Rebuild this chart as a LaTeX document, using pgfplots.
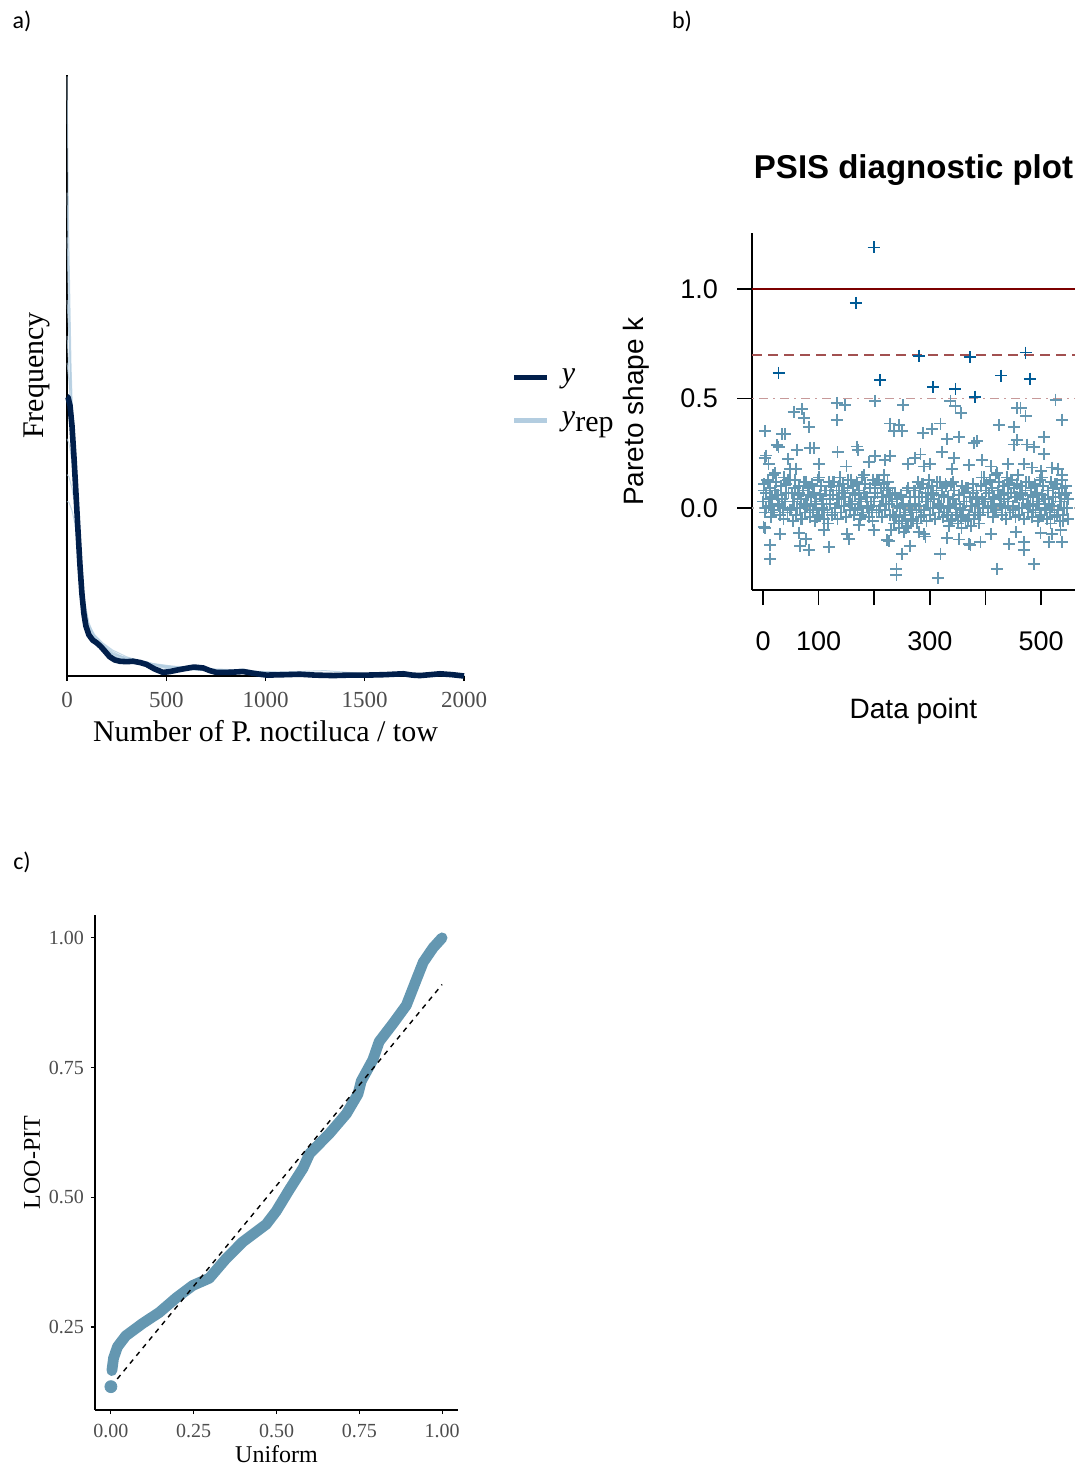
\documentclass[border=0pt]{standalone}
\usepackage{fontspec}
\setmainfont{Liberation Serif}
\newfontfamily\arial{Liberation Sans}
\newfontfamily\calibri{Carlito}
\usepackage{pgfplots}
\pgfplotsset{compat=1.18}
\definecolor{yblue}{HTML}{011F4B}
\definecolor{repblue}{HTML}{B3CDE0}
\definecolor{ptlight}{HTML}{6497B1}
\definecolor{ptdark}{HTML}{005B96}
\definecolor{gray30}{RGB}{77,77,77}
\definecolor{kzero}{RGB}{169,169,169}
\definecolor{khalf}{HTML}{C79999}
\definecolor{kseven}{HTML}{A25050}
\definecolor{kone}{HTML}{7C0000}
\tikzset{
  rep/.style={repblue, line width=0.5pt, opacity=0.75},
  plab/.style={font=\calibri\fontsize{12}{14}\selectfont},
}

\begin{document}
\begin{tikzpicture}
\path[use as bounding box] (0,0) rectangle (540pt,-734pt);
\node[plab] at (11pt,-10.5pt) {a)};
\node[plab] at (341pt,-10.5pt) {b)};
\node[plab] at (11pt,-431pt) {c)};

% ===== a) density overlay =====
\begin{axis}[
  at={(33.5pt,-338pt)}, anchor=south west,
  scale only axis, width=198.5pt, height=300.5pt,
  xmin=0, xmax=2000, ymin=0, ymax=1343,
  axis x line*=bottom, axis y line*=left,
  axis line style={line width=0.8pt},
  ytick=\empty, xtick={0,500,1000,1500,2000},
  tick align=outside, major tick length=2.5pt,
  tick style={black, line width=0.6pt},
  xticklabel style={font=\fontsize{11.5}{13}\selectfont, text=gray30, yshift=-2pt},
  /pgf/number format/assume math mode=true,
  /pgf/number format/set thousands separator={},
  xlabel={Number of P. noctiluca / tow}, ylabel={Frequency},
  every axis x label/.style={at={(rel axis cs:0.5,0)}, yshift=-27.5pt, anchor=center, font=\fontsize{15}{17}\selectfont},
  every axis y label/.style={at={(rel axis cs:-0.0756,0.5)}, rotate=90, anchor=center, font=\fontsize{15}{17}\selectfont},
  clip=false,
  legend style={at={(1,0.461)}, anchor=west, xshift=20.5pt, draw=none, fill=none,
    row sep=9pt, font=\fontsize{15}{17}\selectfont},
  legend cell align=left,
  legend image code/.code={\draw[#1] (0pt,0pt) -- (16.5pt,0pt); \path[draw=none, fill=none] (22pt,0pt) -- (22pt,0.1pt);},
]
% yrep draws
\addplot[rep, forget plot] coordinates {(0,1340) (8,1000) (20,700) (35,480) (50,330) (70,210) (90,140) (110,105) (140,85) (180,68) (230,50) (300,38) (400,28) (500,22) (650,16) (800,12) (1000,8) (1300,5) (1600,3) (2000,1)};
\addplot[rep, forget plot] coordinates {(0,1080) (8,900) (20,650) (35,470) (50,340) (70,215) (90,135) (110,100) (140,80) (180,62) (230,45) (300,36) (400,30) (500,20) (650,18) (800,10) (880,16) (1000,7) (1300,6) (1600,3) (2000,1)};
\addplot[rep, forget plot] coordinates {(0,840) (10,760) (25,600) (40,440) (55,310) (70,220) (90,140) (110,95) (140,82) (180,70) (230,52) (300,40) (400,27) (500,18) (650,15) (800,13) (1000,6) (1300,4) (1600,4) (2000,1)};
\addplot[rep, forget plot] coordinates {(0,700) (10,660) (25,560) (40,430) (55,320) (70,230) (90,150) (110,100) (140,78) (180,60) (230,48) (300,42) (400,30) (500,24) (650,14) (800,9) (1000,8) (1300,12) (1600,2) (2000,1)};
\addplot[rep, forget plot] coordinates {(0,620) (10,600) (25,540) (40,440) (55,330) (70,225) (90,145) (110,108) (140,90) (180,72) (230,55) (300,38) (400,25) (500,21) (650,17) (800,14) (1000,9) (1300,3) (1600,3) (2000,1)};
\addplot[rep, forget plot] coordinates {(0,530) (10,520) (25,480) (40,410) (55,320) (70,230) (90,155) (110,112) (140,88) (180,66) (230,46) (300,35) (400,32) (500,19) (650,13) (800,11) (1000,6) (1300,6) (1600,2) (2000,1)};
\addplot[rep, forget plot] coordinates {(0,450) (10,445) (25,420) (40,380) (55,310) (70,235) (90,160) (110,115) (140,92) (180,74) (230,58) (300,43) (400,29) (500,23) (650,19) (800,12) (1000,10) (1300,4) (1600,3) (2000,1)};
\addplot[rep, forget plot] coordinates {(0,390) (10,388) (25,370) (40,340) (55,290) (70,225) (90,165) (110,120) (140,86) (180,64) (230,50) (300,39) (400,26) (500,22) (650,16) (800,15) (1000,7) (1300,5) (1600,4) (2000,1)};
\addplot[rep, forget plot] coordinates {(0,760) (8,700) (20,580) (35,450) (50,330) (70,205) (90,130) (110,92) (140,74) (180,58) (230,44) (300,34) (400,24) (500,17) (650,14) (800,10) (1000,5) (1300,4) (1600,2) (2000,1)};
\addplot[rep, forget plot] coordinates {(0,980) (8,820) (20,620) (35,460) (50,335) (70,218) (90,142) (110,98) (140,84) (180,66) (230,49) (300,37) (400,31) (500,20) (650,15) (800,12) (1000,8) (1300,5) (1600,3) (2000,1)};
% observed y
\addplot[yblue, line width=2.8pt, line join=round, forget plot] coordinates {
  (0,624) (5,623) (15,605) (25,560) (35,490) (45,410) (55,328) (65,250) (75,185)
  (85,140) (95,112) (110,92) (130,80) (150,74) (170,66) (190,56) (215,43) (240,36)
  (266,33) (300,32) (333,33) (370,30) (400,26) (440,16) (484,8) (520,10) (551,13)
  (600,17) (640,20) (686,18) (720,12) (753,8) (800,8) (850,9) (887,10) (940,6)
  (1005,2) (1100,3) (1173,4) (1250,2) (1341,1) (1420,2) (1509,2) (1600,3) (1694,5)
  (1740,2) (1778,1) (1830,3) (1879,5) (1940,3) (2000,0)};
\addlegendimage{yblue, line width=2.6pt}\addlegendentry{\textit{y}}
\addlegendimage{repblue, line width=2.6pt}\addlegendentry{\textit{y}\raisebox{-0.4ex}{rep}}
\end{axis}

% ===== b) PSIS diagnostic =====
\begin{axis}[
  at={(376pt,-295pt)}, anchor=south west,
  scale only axis, width=161.5pt, height=178.5pt,
  xmin=-19.8, xmax=561, ymin=-0.374, ymax=1.256,
  axis x line*=bottom, axis y line*=left,
  axis line style={line width=0.8pt},
  xtick={0,100,200,300,400,500}, xticklabels={0,100,,300,,500},
  ytick={0,0.5,1}, yticklabels={0.0,0.5,1.0},
  tick align=outside, major tick length=7.5pt,
  tick style={black, line width=0.8pt},
  tick label style={font=\arial\fontsize{13.5}{15}\selectfont},
  xticklabel style={yshift=-10pt},
  yticklabel style={xshift=-6pt},
  title={PSIS diagnostic plot},
  title style={at={(0.5,1)}, anchor=center, yshift=25.5pt, font=\arial\bfseries\fontsize{16.5}{18}\selectfont},
  xlabel={Data point}, ylabel={Pareto shape k},
  every axis x label/.style={at={(rel axis cs:0.5,0)}, yshift=-60.5pt, anchor=center, font=\arial\fontsize{14}{16}\selectfont},
  every axis y label/.style={at={(rel axis cs:-0.359,0.5)}, rotate=90, anchor=center, font=\arial\fontsize{14}{16}\selectfont},
  clip=false,
]
\addplot[kzero, line width=0.8pt, dash pattern=on 1pt off 2.5pt] coordinates {(-19.8,0) (561,0)};
\addplot[khalf, line width=0.9pt, dash pattern=on 1pt off 2.5pt on 4.5pt off 2.5pt] coordinates {(-19.8,0.5) (561,0.5)};
\addplot[kseven, line width=0.9pt, dash pattern=on 5pt off 3pt] coordinates {(-19.8,0.7) (561,0.7)};
\addplot[kone, line width=0.9pt] coordinates {(-19.8,1) (561,1)};
% k <= 0.5
\addplot[only marks, mark=+, mark size=3pt, ptlight, mark options={line width=0.9pt}] coordinates {
  (0,0.03) (2,0.11) (4,-0.02) (6,0.07) (8,0.13) (10,0.01) (12,0.09) (14,-0.04) (16,0.05) (18,0.15)
  (20,-0.01) (22,0.08) (24,0.12) (26,0.02) (28,0.06) (30,-0.03) (32,0.10) (34,0.04) (36,0.00) (38,0.14)
  (40,0.03) (42,0.11) (44,-0.02) (46,0.07) (48,0.13)
  (50,-0.01) (52,0.07) (54,-0.06) (56,0.03) (58,0.13) (60,-0.03) (62,0.06) (64,0.10) (66,0.00) (68,0.04)
  (70,-0.05) (72,0.08) (74,0.02) (76,-0.02) (78,0.12)
  (80,0.01) (82,0.09) (84,-0.04) (86,0.05) (88,0.11) (90,-0.01) (92,0.07) (94,-0.06) (96,0.03) (98,0.13)
  (100,-0.03) (102,0.06) (104,0.10) (106,0.00) (108,0.04) (110,-0.05) (112,0.08) (114,0.02) (116,-0.02) (118,0.12)
  (120,0.02) (122,0.10) (124,-0.03) (126,0.06) (128,0.12) (130,0.00) (132,0.08) (134,-0.05) (136,0.04) (138,0.14)
  (140,-0.02) (142,0.07) (144,0.11) (146,0.01) (148,0.05) (150,-0.04) (152,0.09) (154,0.03) (156,-0.01) (158,0.13)
  (160,0.02) (162,0.10) (164,-0.03) (166,0.06) (168,0.12) (170,0.00) (172,0.08) (174,-0.05) (176,0.04) (178,0.14)
  (180,-0.02) (182,0.07) (184,0.11) (186,0.01) (188,0.05) (190,-0.04) (192,0.09) (194,0.03) (196,-0.01) (198,0.13)
  (200,0.03) (202,0.11) (204,-0.02) (206,0.07) (208,0.13) (210,0.01) (212,0.09) (214,-0.04) (216,0.05) (218,0.15)
  (220,-0.01) (222,0.08) (224,0.12) (226,0.02) (228,0.06)
  (230,-0.10) (232,0.03) (234,-0.03) (236,-0.07) (238,0.07)
  (240,-0.04) (242,0.04) (244,-0.09) (246,0.00) (248,0.06) (250,-0.06) (252,0.02) (254,-0.11) (256,-0.02) (258,0.08)
  (260,-0.08) (262,0.01) (264,0.05) (266,-0.05) (268,-0.01)
  (270,-0.05) (272,0.08) (274,0.02) (276,-0.02) (278,0.12)
  (280,0.01) (282,0.09) (284,-0.04) (286,0.05) (288,0.11) (290,-0.01) (292,0.07) (294,-0.06) (296,0.03) (298,0.13)
  (300,-0.03) (302,0.06) (304,0.10) (306,0.00) (308,0.04) (310,-0.05) (312,0.08) (314,0.02) (316,-0.02) (318,0.12)
  (320,0.01) (322,0.09) (324,-0.04) (326,0.05) (328,0.11)
  (330,-0.03) (332,0.05) (334,-0.08) (336,0.01) (338,0.11) (340,-0.05) (342,0.04) (344,0.08) (346,-0.02) (348,0.02)
  (350,-0.07) (352,0.06) (354,0.00) (356,-0.04) (358,0.10)
  (360,-0.01) (362,0.07) (364,-0.06) (366,0.03) (368,0.09) (370,-0.03) (372,0.05) (374,-0.08) (376,0.01) (378,0.11)
  (380,-0.05) (382,0.04) (384,0.08) (386,-0.02) (388,0.02)
  (390,-0.03) (392,0.10) (394,0.04) (396,0.00) (398,0.14)
  (400,0.03) (402,0.11) (404,-0.02) (406,0.07) (408,0.13) (410,0.01) (412,0.09) (414,-0.04) (416,0.05) (418,0.15)
  (420,-0.01) (422,0.08) (424,0.12) (426,0.02) (428,0.06) (430,-0.03) (432,0.10) (434,0.04) (436,0.00) (438,0.14)
  (440,0.03) (442,0.11) (444,-0.02) (446,0.07) (448,0.13) (450,0.01) (452,0.09) (454,-0.04) (456,0.05) (458,0.15)
  (460,-0.03) (462,0.06) (464,0.10) (466,0.00) (468,0.04) (470,-0.05) (472,0.08) (474,0.02) (476,-0.02) (478,0.12)
  (480,0.01) (482,0.09) (484,-0.04) (486,0.05) (488,0.11) (490,-0.01) (492,0.07) (494,-0.06) (496,0.03) (498,0.13)
  (500,-0.03) (502,0.06) (504,0.10) (506,0.00) (508,0.04) (510,-0.05) (512,0.08) (514,0.02) (516,-0.02) (518,0.12)
  (520,0.01) (522,0.09) (524,-0.04) (526,0.05) (528,0.11) (530,-0.01) (532,0.07) (534,-0.06) (536,0.03) (538,0.13)
  (540,-0.03) (542,0.06) (544,0.10) (546,0.00) (548,0.04)
  (1,0.08) (5,0.00) (9,0.12) (13,0.04) (17,-0.02) (21,0.16) (25,0.06) (29,0.01) (33,0.10) (37,-0.05)
  (41,0.07) (45,0.13) (49,-0.01)
  (53,0.03) (57,0.09) (61,0.00) (65,0.07) (69,-0.05) (73,0.12) (77,0.01)
  (81,0.06) (85,-0.02) (89,0.10) (93,0.02) (97,-0.04) (101,0.14) (105,0.04) (109,-0.01) (113,0.08) (117,-0.07)
  (121,0.06) (125,0.12) (129,-0.02) (133,0.04) (137,0.10) (141,0.01) (145,0.08) (149,-0.04) (153,0.13) (157,0.02)
  (161,0.07) (165,-0.01) (169,0.11) (173,0.03) (177,-0.03) (181,0.15) (185,0.05) (189,0.00) (193,0.09) (197,-0.06)
  (201,0.07) (205,0.13) (209,-0.01) (213,0.05) (217,0.11) (221,0.02) (225,0.09) (229,-0.03)
  (233,0.07) (237,-0.04) (241,0.01) (245,-0.07) (249,0.05) (253,-0.03) (257,-0.09) (261,0.09) (265,-0.01) (269,-0.06)
  (273,0.08) (277,-0.07) (281,0.05) (285,0.11) (289,-0.03) (293,0.03) (297,0.09) (301,0.00) (305,0.07) (309,-0.05)
  (313,0.12) (317,0.01) (321,0.06) (325,-0.02) (329,0.10)
  (333,0.00) (337,-0.06) (341,0.12) (345,0.02) (349,-0.03) (353,0.06) (357,-0.09) (361,0.03) (365,0.09) (369,-0.05)
  (373,0.01) (377,0.07) (381,-0.02) (385,0.05) (389,-0.07)
  (393,0.14) (397,0.03) (401,0.08) (405,0.00) (409,0.12) (413,0.04) (417,-0.02) (421,0.16) (425,0.06) (429,0.01)
  (433,0.10) (437,-0.05) (441,0.07) (445,0.13) (449,-0.01) (453,0.05) (457,0.11)
  (461,0.00) (465,0.07) (469,-0.05) (473,0.12) (477,0.01)
  (481,0.06) (485,-0.02) (489,0.10) (493,0.02) (497,-0.04) (501,0.14) (505,0.04) (509,-0.01) (513,0.08) (517,-0.07)
  (521,0.05) (525,0.11) (529,-0.03) (533,0.03) (537,0.09) (541,0.00) (545,0.07) (549,-0.05)
  (4,0.353) (3,0.229) (6,0.24) (34,0.337) (40,0.337) (25,0.287) (28,0.28) (55,0.439) (70,0.451) (73,0.413)
  (82,0.369) (61,0.267) (45,0.226) (49,0.177) (85,0.276) (92,0.273) (133,0.48) (148,0.47) (201,0.49) (252,0.47)
  (526,0.495) (337,0.49) (346,0.465) (356,0.435) (133,0.404) (134,0.255) (169,0.281) (171,0.265) (202,0.238) (220,0.22)
  (229,0.238) (229,0.386) (244,0.378) (250,0.351) (236,0.351) (274,0.229) (283,0.245) (287,0.343) (304,0.36) (319,0.386)
  (322,0.255) (331,0.316) (352,0.325) (343,0.229) (379,0.299) (385,0.305) (394,0.220) (424,0.378) (451,0.369) (457,0.456)
  (463,0.456) (472,0.421) (451,0.29) (457,0.31) (475,0.29) (487,0.28) (505,0.325) (505,0.247) (538,0.404) (520,0.185)
  (538,0.15) (484,0.185) (10,0.2) (60,0.18) (100,0.2) (150,0.19) (190,0.21) (260,0.2) (290,0.19) (300,0.2)
  (340,0.18) (370,0.195) (410,0.19) (440,0.2) (470,0.2) (500,0.17) (530,0.18)
  (1,-0.086) (3,-0.09) (13,-0.168) (13,-0.231) (65,-0.112) (67,-0.173) (82,-0.19) (78,-0.14) (118,-0.178) (151,-0.12)
  (155,-0.14) (172,-0.077) (223,-0.147) (226,-0.15) (240,-0.278) (240,-0.304) (250,-0.208) (265,-0.173) (289,-0.12) (292,-0.13)
  (319,-0.208) (315,-0.318) (331,-0.138) (352,-0.143) (370,-0.164) (373,-0.17) (391,-0.156) (421,-0.278) (442,-0.164) (470,-0.156)
  (470,-0.19) (487,-0.257) (499,-0.112) (514,-0.156) (538,-0.156) (535,-0.1) (540,-0.06) (30,-0.12) (110,-0.1) (200,-0.1)
  (280,-0.11) (410,-0.12) (455,-0.11) (520,-0.12)};
% k > 0.5
\addplot[only marks, mark=+, mark size=3pt, ptdark, mark options={line width=0.9pt}] coordinates {
  (28,0.617) (167,0.937) (199,1.19) (211,0.584) (280,0.696) (306,0.552)
  (346,0.544) (372,0.689) (381,0.509) (428,0.605) (472,0.71) (480,0.591)};
\end{axis}

% ===== c) LOO-PIT =====
\begin{axis}[
  at={(47.5pt,-705pt)}, anchor=south west,
  scale only axis, width=181.5pt, height=247.5pt,
  xmin=-0.048, xmax=1.048, ymin=0.090, ymax=1.044,
  axis x line*=bottom, axis y line*=left,
  axis line style={line width=0.8pt},
  xtick={0,0.25,0.5,0.75,1}, xticklabels={0.00,0.25,0.50,0.75,1.00},
  ytick={0.25,0.5,0.75,1}, yticklabels={0.25,0.50,0.75,1.00},
  tick align=outside, major tick length=2pt,
  tick style={black, line width=0.6pt},
  tick label style={font=\fontsize{10}{12}\selectfont, text=gray30},
  xticklabel style={yshift=-1.5pt},
  xlabel={Uniform}, ylabel={LOO-PIT},
  every axis x label/.style={at={(rel axis cs:0.5,0)}, yshift=-22pt, anchor=center, font=\fontsize{12}{14}\selectfont},
  every axis y label/.style={at={(rel axis cs:-0.1736,0.5)}, rotate=90, anchor=center, font=\fontsize{12}{14}\selectfont},
  clip=false,
]
\addplot[only marks, mark=*, mark size=3pt, ptlight] coordinates {(0,0.135)};
\addplot[ptlight, line width=5.4pt, line cap=round, line join=round] coordinates {
  (0.003,0.166) (0.008,0.19) (0.02,0.212) (0.045,0.233) (0.096,0.257) (0.146,0.278)
  (0.197,0.306) (0.247,0.330) (0.297,0.344) (0.348,0.382) (0.398,0.414) (0.469,0.448)
  (0.499,0.473) (0.539,0.515) (0.58,0.556) (0.60,0.584) (0.66,0.623) (0.711,0.661)
  (0.746,0.699) (0.756,0.724) (0.791,0.765) (0.81,0.80) (0.852,0.835) (0.892,0.87)
  (0.922,0.919) (0.943,0.953) (0.973,0.981) (1.0,1.0)};
\addplot[black, line width=0.7pt, dash pattern=on 2.5pt off 2.5pt] coordinates {(0,0.135) (1,0.910)};
\end{axis}
\end{tikzpicture}
\end{document}
